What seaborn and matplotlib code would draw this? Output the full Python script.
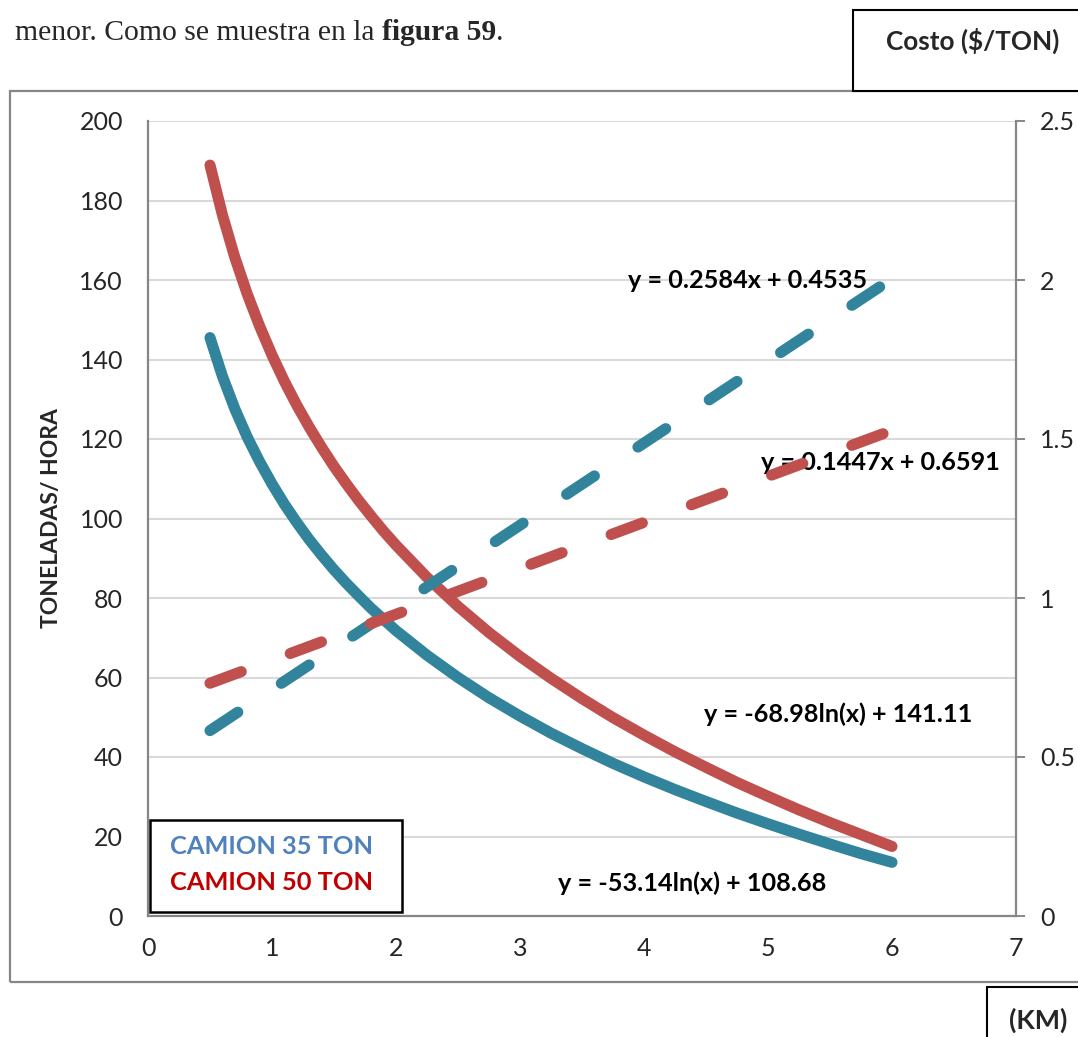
import matplotlib
matplotlib.use("Agg")
import matplotlib.pyplot as plt
from matplotlib.patches import Rectangle
import pandas as pd
import seaborn as sns

# Distancia de acarreo (km) y producción (toneladas/hora) por tipo de camión
distancia_km = [0.5, 0.6, 0.7, 0.8, 0.9, 1.0, 1.1, 1.2, 1.3, 1.4, 1.5, 1.6, 1.7, 1.8, 1.9,
                2.0, 2.25, 2.5, 2.75, 3.0, 3.25, 3.5, 3.75, 4.0, 4.25, 4.5, 4.75, 5.0,
                5.25, 5.5, 5.75, 6.0]
ton_hora_35 = [145.5, 135.8, 127.6, 120.5, 114.3, 108.7, 103.6, 99.0, 94.7, 90.8, 87.1,
               83.7, 80.5, 77.4, 74.6, 71.8, 65.6, 60.0, 54.9, 50.3, 46.0, 42.1, 38.4,
               35.0, 31.8, 28.8, 25.9, 23.2, 20.6, 18.1, 15.7, 13.5]
ton_hora_50 = [188.9, 176.4, 165.7, 156.5, 148.4, 141.1, 134.5, 128.5, 123.0, 117.9, 113.1,
               108.7, 104.5, 100.6, 96.8, 93.3, 85.2, 77.9, 71.3, 65.3, 59.8, 54.7, 49.9,
               45.5, 41.3, 37.4, 33.6, 30.1, 26.7, 23.5, 20.5, 17.5]

# Costo ($/TON) frente a la distancia
costo_km = [0.5, 6.0]
costo_35 = [0.583, 2.004]
costo_50 = [0.732, 1.527]

series = ["CAMION 35 TON", "CAMION 50 TON"]
ecuaciones = ["y = 0.2584x + 0.4535", "y = 0.1447x + 0.6591",
              "y = -68.98ln(x) + 141.11", "y = -53.14ln(x) + 108.68"]
x_ticks = [0, 1, 2, 3, 4, 5, 6, 7]
y_ticks = [0, 20, 40, 60, 80, 100, 120, 140, 160, 180, 200]
y2_ticks = [0, 0.5, 1, 1.5, 2, 2.5]
y2_labels = ["0", "0.5", "1", "1.5", "2", "2.5"]

TEAL = "#31849B"
RED = "#C0504D"
GRAY = "#868686"

sns.set_theme(style="white")
plt.rcParams["font.family"] = ["Lato", "DejaVu Sans"]

fig = plt.figure(figsize=(10.78, 10.37), dpi=100)
W, H = 1078, 1037


def fx(px):
    return px / W


def fy(py):
    return 1 - py / H


# marco exterior del gráfico
fig.patches.append(Rectangle((fx(10), fy(982)), 1.2, (982 - 91) / H, transform=fig.transFigure,
                             fill=False, edgecolor=GRAY, linewidth=1.6, zorder=0))

ax = fig.add_axes([fx(148), fy(916), (1016 - 148) / W, (916 - 121) / H])
ax.set_facecolor("none")

prod = pd.DataFrame({"km": distancia_km, "t35": ton_hora_35, "t50": ton_hora_50})
costo = pd.DataFrame({"km": costo_km, "c35": costo_35, "c50": costo_50})

line_kw = dict(linewidth=8, solid_capstyle="round", solid_joinstyle="round")
sns.lineplot(data=prod, x="km", y="t50", color=RED, ax=ax, **line_kw)
sns.lineplot(data=prod, x="km", y="t35", color=TEAL, ax=ax, **line_kw)

ax.set_xlim(0, 7)
ax.set_ylim(0, 200)
ax.set_xticks(x_ticks)
ax.set_yticks(y_ticks)
ax.set_xticklabels([str(t) for t in x_ticks], fontsize=18)
ax.set_yticklabels([str(t) for t in y_ticks], fontsize=18)
ax.tick_params(axis="x", length=0, pad=15)
ax.tick_params(axis="y", length=0, pad=18)
ax.yaxis.grid(True, color="#D9D9D9", linewidth=1.5)
ax.xaxis.grid(False)
ax.set_axisbelow(True)
for side in ["left", "bottom"]:
    ax.spines[side].set_color(GRAY)
    ax.spines[side].set_linewidth(1.6)
ax.spines["top"].set_visible(False)
ax.spines["right"].set_visible(False)
ax.set_xlabel("")
ax.set_ylabel("TONELADAS/ HORA", fontsize=16.5, fontweight="bold")
ax.yaxis.set_label_coords((62 - 148) / 868, (916 - 518) / 795)

ax2 = ax.twinx()
dash_kw = dict(linewidth=8, dash_capstyle="round", linestyle=(0, (3.0, 4.7)))
sns.lineplot(data=costo, x="km", y="c35", color=TEAL, ax=ax2, **dash_kw)
sns.lineplot(data=costo, x="km", y="c50", color=RED, ax=ax2, **dash_kw)
ax2.set_ylim(0, 2.5)
ax2.set_yticks(y2_ticks)
ax2.set_yticklabels(y2_labels, fontsize=18)
ax2.set_ylabel("")
ax2.tick_params(axis="y", length=6.5, width=1.4, color=GRAY, pad=11)
ax2.grid(False)
for side in ["left", "bottom", "top"]:
    ax2.spines[side].set_visible(False)
ax2.spines["right"].set_color(GRAY)
ax2.spines["right"].set_linewidth(1.6)

# ecuaciones de las líneas de tendencia
eq_pos = [(4.839, 160.0), (5.903, 114.2), (5.565, 50.8), (4.387, 8.3)]
for txt, (x, y) in zip(ecuaciones, eq_pos):
    ax.text(x, y, txt, fontsize=18.2, fontweight="bold", ha="center", va="center",
            color="black", zorder=10)

# leyenda
fig.patches.append(Rectangle((fx(150), fy(912)), (402 - 150) / W, (912 - 820) / H,
                             transform=fig.transFigure, facecolor="white",
                             edgecolor="black", linewidth=1.8, zorder=5))
for nombre, color, py in zip(series, ["#4F81BD", "#C00000"], [847, 883]):
    fig.text(fx(170), fy(py), nombre, fontsize=18.3, fontweight="bold", color=color,
             ha="left", va="center", zorder=6)

# recuadros de título de ejes
fig.patches.append(Rectangle((fx(853), fy(91)), 0.3, 81 / H, transform=fig.transFigure,
                             facecolor="white", edgecolor="black", linewidth=1.5, zorder=5))
fig.text(fx(973), fy(41), "Costo ($/TON)", fontsize=18.8, fontweight="bold",
         ha="center", va="center", zorder=6)
fig.patches.append(Rectangle((fx(987), fy(1100)), 0.3, (1100 - 987) / H, transform=fig.transFigure,
                             facecolor="white", edgecolor="black", linewidth=1.5, zorder=5))
fig.text(fx(1038), fy(1020), "(KM)", fontsize=19.4, fontweight="bold",
         ha="center", va="center", zorder=6)

# texto del documento
serif = dict(fontsize=21.3, family="Liberation Serif", va="baseline", ha="left")
t1 = fig.text(fx(15), fy(40), "menor. Como se muestra en la ", **serif)
fig.canvas.draw()
bb = t1.get_window_extent()
t2 = fig.text(bb.x1 / W, fy(40), "figura 59", fontweight="bold", **serif)
bb2 = t2.get_window_extent()
fig.text(bb2.x1 / W, fy(40), ".", **serif)

fig.savefig("out.png", dpi=100)
